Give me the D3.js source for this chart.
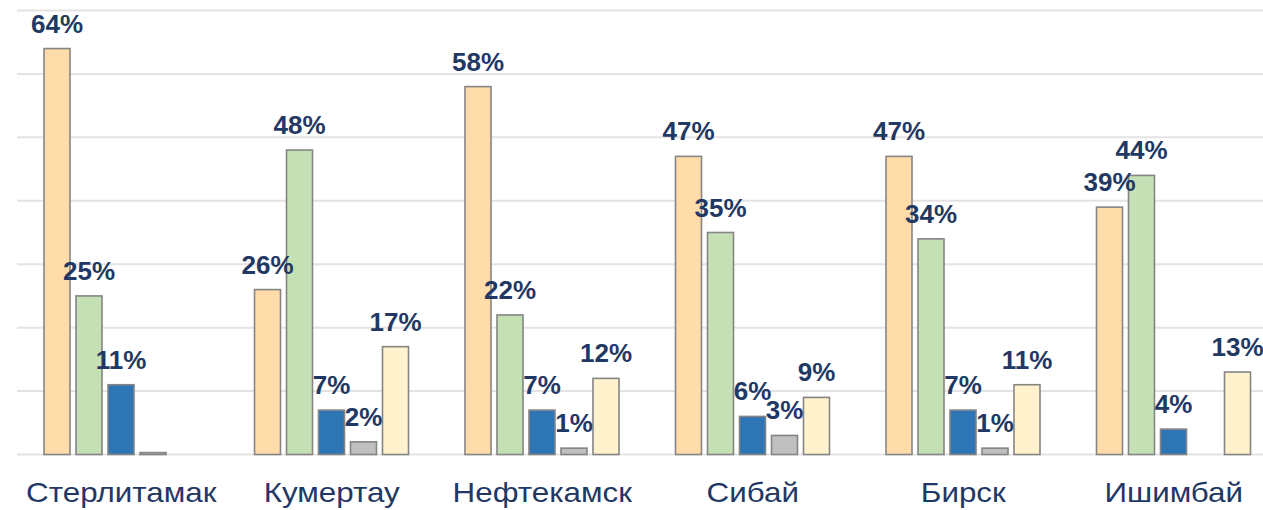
<!DOCTYPE html>
<html><head><meta charset="utf-8">
<script src="https://cdn.jsdelivr.net/npm/d3@7"></script>
<style>html,body{margin:0;padding:0;background:#fff;overflow:hidden}</style>
</head><body>
<svg id="chart" width="1263" height="510"></svg>
<script>
const categories = ["Стерлитамак","Кумертау","Нефтекамск","Сибай","Бирск","Ишимбай"];
const seriesNames = ["s1","s2","s3","s4","s5"];
const s1 = [64, 26, 58, 47, 47, 39];
const s2 = [25, 48, 22, 35, 34, 44];
const s3 = [11, 7, 7, 6, 7, 4];
const s4 = [0.3, 2, 1, 3, 1, null];
const s5 = [null, 17, 12, 9, 11, 13];
const showLabel4 = [false, true, true, true, true, false];
const colors = ["#FFDCA8","#C5E0B4","#2E75B6","#BFBFBF","#FFF2CC"];
const yTicks = [0,10,20,30,40,50,60,70];

const svg = d3.select("#chart");
const x0 = d3.scaleBand().domain(categories).range([16, 1279]).paddingInner(0).paddingOuter(0);
const x1 = d3.scaleBand().domain(seriesNames).range([28, 182]).paddingInner(0.1875).paddingOuter(0);
const y = d3.scaleLinear().domain([0,70]).range([454.5, 10.5]);

svg.append("g").selectAll("line").data(yTicks).join("line")
  .attr("x1",17).attr("x2",1263)
  .attr("y1",d=>y(d)).attr("y2",d=>y(d))
  .attr("stroke","#e3e3e3").attr("stroke-width",2);

const all = [s1,s2,s3,s4,s5];
const data = [];
categories.forEach((c,i)=>{
  all.forEach((s,j)=>{
    if (s[i]!==null) data.push({c, k:seriesNames[j], v:s[i], j, label: j===3 ? showLabel4[i] : true});
  });
});

svg.append("g").selectAll("rect").data(data).join("rect")
  .attr("x",d=>x0(d.c)+x1(d.k))
  .attr("width",x1.bandwidth())
  .attr("y",d=>y(d.v))
  .attr("height",d=>y(0)-y(d.v))
  .attr("fill",d=>colors[d.j])
  .attr("stroke","#858585").attr("stroke-width",1.6);

svg.append("g").selectAll("text").data(data.filter(d=>d.label)).join("text")
  .attr("x",d=>x0(d.c)+x1(d.k)+x1.bandwidth()/2)
  .attr("y",d=>y(d.v)-16)
  .attr("text-anchor","middle")
  .attr("font-family","Liberation Sans, Arial, sans-serif")
  .attr("font-weight","bold").attr("font-size",26)
  .attr("fill","#1F3864")
  .text(d=>d.v+"%");

svg.append("g").selectAll("text").data(categories).join("text")
  .attr("transform",d=>`translate(${x0(d)+x0.bandwidth()/2},502) scale(1.1,1)`)
  .attr("text-anchor","middle")
  .attr("font-family","Liberation Sans, Arial, sans-serif")
  .attr("font-size",28.5)
  .attr("fill","#1F3864")
  .text(d=>d);
</script>
</body></html>
